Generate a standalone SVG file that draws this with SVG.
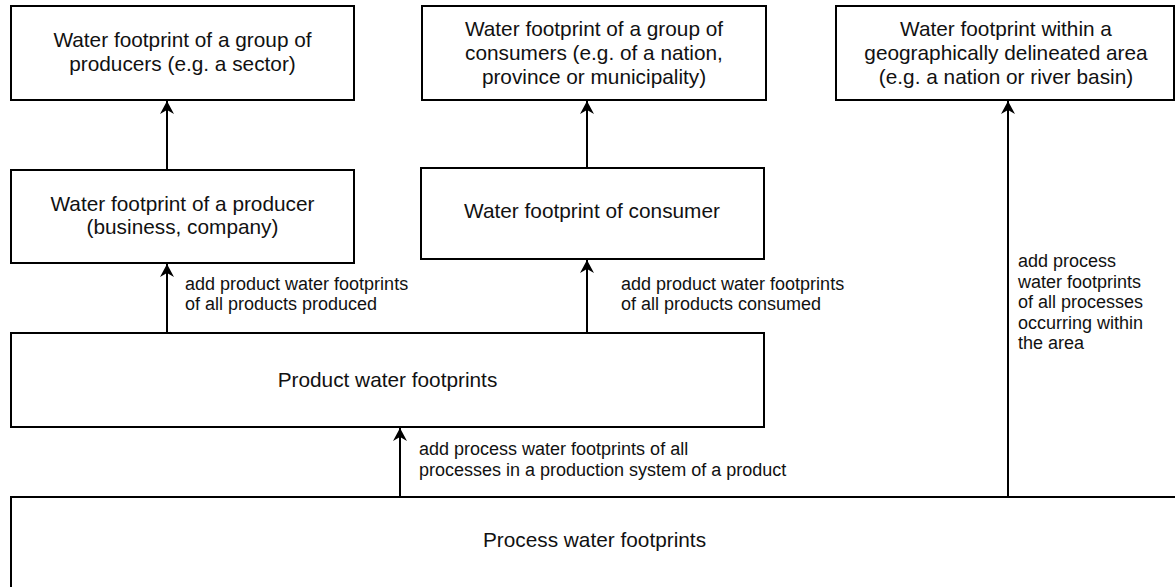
<svg xmlns="http://www.w3.org/2000/svg" width="1175" height="587" viewBox="0 0 1175 587">
  <style>
    .box { fill: #ffffff; stroke: #000000; stroke-width: 2; }
    .t { font-family: "Liberation Sans", Arial, sans-serif; font-size: 20.8px; fill: #111111; text-anchor: middle; }
    .lbl { font-family: "Liberation Sans", Arial, sans-serif; font-size: 18px; fill: #111111; }
    .conn { stroke: #000000; stroke-width: 2; fill: none; marker-end: url(#arr); }
  </style>
  <defs>
    <marker id="arr" markerUnits="userSpaceOnUse" markerWidth="16" markerHeight="16" viewBox="-14 -8 16 16" refX="0" refY="0" orient="auto">
      <path d="M0,0 L-13,-7 L-9,0 L-13,7 Z" fill="#000000"/>
    </marker>
  </defs>
  <rect width="1175" height="587" fill="#ffffff"/>

  <g id="node-group-producers">
    <rect class="box" x="11" y="6" width="343" height="94"/>
    <text class="t" x="182.5" y="47">Water footprint of a group of</text>
    <text class="t" x="182.5" y="71">producers (e.g. a sector)</text>
  </g>

  <g id="node-group-consumers">
    <rect class="box" x="422" y="6" width="344" height="94"/>
    <text class="t" x="594" y="36">Water footprint of a group of</text>
    <text class="t" x="594" y="60">consumers (e.g. of a nation,</text>
    <text class="t" x="594" y="84">province or municipality)</text>
  </g>

  <g id="node-area">
    <rect class="box" x="836" y="6" width="338" height="94"/>
    <text class="t" x="1006" y="36">Water footprint within a</text>
    <text class="t" x="1006" y="60">geographically delineated area</text>
    <text class="t" x="1006" y="84">(e.g. a nation or river basin)</text>
  </g>

  <g id="node-producer">
    <rect class="box" x="11" y="170" width="343" height="93"/>
    <text class="t" x="182.5" y="211">Water footprint of a producer</text>
    <text class="t" x="182.5" y="234">(business, company)</text>
  </g>

  <g id="node-consumer">
    <rect class="box" x="421" y="168" width="343" height="91"/>
    <text class="t" x="592" y="218">Water footprint of consumer</text>
  </g>

  <g id="node-product">
    <rect class="box" x="11" y="333" width="753" height="94"/>
    <text class="t" x="387.5" y="387">Product water footprints</text>
  </g>

  <g id="node-process">
    <rect class="box" x="11" y="497" width="1167" height="120"/>
    <text class="t" x="594.5" y="547">Process water footprints</text>
  </g>

  <g id="connectors">
    <line class="conn" x1="167" y1="170" x2="167" y2="101"/>
    <line class="conn" x1="587" y1="168" x2="587" y2="101"/>
    <line class="conn" x1="167" y1="333" x2="167" y2="264"/>
    <line class="conn" x1="587" y1="333" x2="587" y2="260"/>
    <line class="conn" x1="400" y1="497" x2="400" y2="428"/>
    <line class="conn" x1="1008" y1="497" x2="1008" y2="101"/>

    <text class="lbl" x="185" y="290">add product water footprints</text>
    <text class="lbl" x="185" y="310">of all products produced</text>

    <text class="lbl" x="621" y="290">add product water footprints</text>
    <text class="lbl" x="621" y="310">of all products consumed</text>

    <text class="lbl" x="1018" y="267">add process</text>
    <text class="lbl" x="1018" y="287.5">water footprints</text>
    <text class="lbl" x="1018" y="308">of all processes</text>
    <text class="lbl" x="1018" y="328.5">occurring within</text>
    <text class="lbl" x="1018" y="349">the area</text>

    <text class="lbl" x="419" y="455">add process water footprints of all</text>
    <text class="lbl" x="419" y="476">processes in a production system of a product</text>
  </g>
</svg>
